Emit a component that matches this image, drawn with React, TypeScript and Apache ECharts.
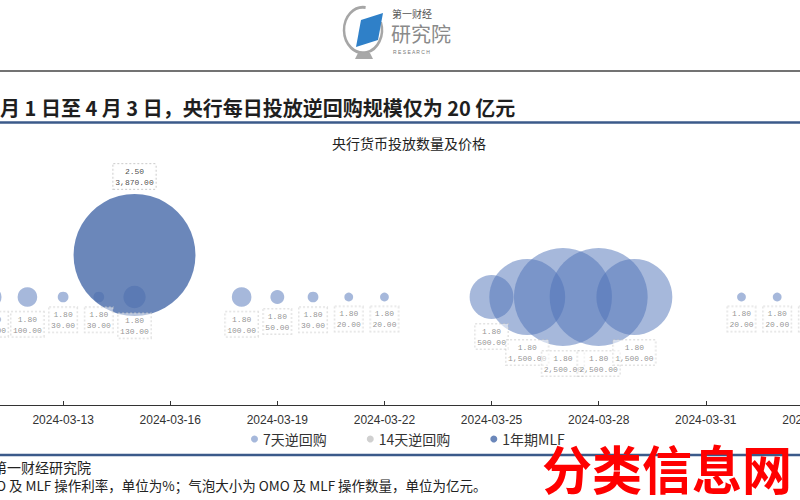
import React, { useEffect, useRef } from 'react';
import * as echarts from 'echarts';

// ---- data ----
const repoDates = ['2024-03-11', '2024-03-12', '2024-03-13', '2024-03-14', '2024-03-15', '2024-03-18', '2024-03-19', '2024-03-20', '2024-03-21', '2024-03-22', '2024-03-25', '2024-03-26', '2024-03-27', '2024-03-28', '2024-03-29', '2024-04-01', '2024-04-02', '2024-04-03'];
const repoRates = [1.8, 1.8, 1.8, 1.8, 1.8, 1.8, 1.8, 1.8, 1.8, 1.8, 1.8, 1.8, 1.8, 1.8, 1.8, 1.8, 1.8, 1.8];
const repoAmounts = [100, 100, 30, 30, 130, 100, 50, 30, 20, 20, 500, 1500, 2500, 2500, 1500, 20, 20, 20];
const repo14Dates: string[] = [];
const repo14Rates: number[] = [];
const repo14Amounts: number[] = [];
const mlfDates = ['2024-03-15'];
const mlfRates = [2.5];
const mlfAmounts = [3870];
const seriesNames = ['7天逆回购', '14天逆回购', '1年期MLF'];
const axisStart = '2024-03-10';
const axisEnd = '2024-04-06';
const tickStepDays = 3;

const headline = '月 1 日至 4 月 3 日，央行每日投放逆回购规模仅为 20 亿元';
const chartTitle = '央行货币投放数量及价格';
const sourceText = '第一财经研究院';
const noteText = 'O 及 MLF 操作利率，单位为%；气泡大小为 OMO 及 MLF 操作数量，单位为亿元。';
const watermark = '分类信息网';

const BASE = Date.UTC(2024, 2, 1);
const DAY = 86400000;
const toIdx = (s: string) =>
  (Date.UTC(+s.slice(0, 4), +s.slice(5, 7) - 1, +s.slice(8, 10)) - BASE) / DAY;
const fmtIdx = (v: number) => new Date(BASE + Math.round(v) * DAY).toISOString().slice(0, 10);
const fmtAmt = (v: number) =>
  v.toLocaleString('en-US', { minimumFractionDigits: 2, maximumFractionDigits: 2 });

const build = (dates: string[], rates: number[], amts: number[]) =>
  dates.map((d, i) => [toIdx(d), rates[i], amts[i]]);

const CJK = '"Noto Sans CJK SC", "Noto Sans", sans-serif';
const OX = 44; // inner canvas offset (chart area extends past the page's left edge)
const INNER_W = 964;

export default function App() {
  const ref = useRef<HTMLDivElement>(null);
  useEffect(() => {
    if (!ref.current) return;
    const chart = echarts.init(ref.current, undefined, { renderer: 'svg' });
    const labelStyle = (position: 'top' | 'bottom') => ({
      show: true,
      position,
      distance: 5,
      formatter: (p: any) => `${p.value[1].toFixed(2)}\n${fmtAmt(p.value[2])}`,
      fontSize: 8,
      fontFamily: '"Liberation Mono", monospace',
      color: '#222',
      lineHeight: 11,
      align: 'center',
      backgroundColor: '#ffffff',
      borderColor: '#c8c8c8',
      borderWidth: 1,
      borderType: 'dotted',
      padding: [2, 2, 1, 2],
    });
    const size = (val: number[]) => 1.96 * Math.sqrt(val[2]);
    const vm = { verticalAlign: 'middle', textVerticalAlign: 'middle' };
    chart.setOption({
      animation: false,
      grid: { left: 0, right: 0, top: 165, bottom: 95, containLabel: false, outerBoundsMode: 'none' },
      xAxis: {
        type: 'value',
        min: toIdx(axisStart),
        max: toIdx(axisEnd),
        interval: tickStepDays,
        splitLine: { show: false },
        axisLine: { lineStyle: { color: '#333', width: 1 } },
        axisTick: { inside: true, length: 4, lineStyle: { color: '#333' } },
        axisLabel: {
          formatter: (v: number) => fmtIdx(v),
          fontSize: 12,
          color: '#333',
          margin: 9,
          fontFamily: '"Liberation Sans", Arial, sans-serif',
        },
      },
      yAxis: { type: 'value', min: 0, max: 4, show: false, splitLine: { show: false } },
      legend: {
        top: 427,
        left: OX + 246,
        icon: 'circle',
        itemWidth: 7,
        itemHeight: 7,
        itemGap: 40,
        data: seriesNames,
        textStyle: { fontSize: 14, color: '#333', fontFamily: CJK },
      },
      series: [
        {
          name: seriesNames[0],
          type: 'scatter',
          data: build(repoDates, repoRates, repoAmounts),
          symbolSize: size,
          itemStyle: { color: '#4E72B8', opacity: 0.5 },
          label: labelStyle('bottom'),
        },
        {
          name: seriesNames[1],
          type: 'scatter',
          data: build(repo14Dates, repo14Rates, repo14Amounts),
          symbolSize: size,
          itemStyle: { color: '#C4C4C4' },
          label: labelStyle('bottom'),
        },
        {
          name: seriesNames[2],
          type: 'scatter',
          data: build(mlfDates, mlfRates, mlfAmounts),
          symbolSize: size,
          itemStyle: { color: '#4A6CAB', opacity: 0.82 },
          label: labelStyle('top'),
        },
      ],
      graphic: [
        {
          type: 'group',
          x: OX,
          y: 0,
          children: [
            // logo
            {
              type: 'arc',
              x: 363,
              y: 30,
              scaleY: 1.2,
              shape: { cx: 0, cy: 0, r: 19, startAngle: -0.35, endAngle: 4.85, clockwise: true },
              style: { stroke: '#a6a6a6', lineWidth: 2.5, fill: null },
            },
            {
              type: 'polygon',
              shape: { points: [[361, 20], [383, 13], [378, 40], [356, 47]] },
              style: { fill: '#2F80C8' },
            },
            {
              type: 'polygon',
              shape: { points: [[358, 53], [370, 53], [373, 59], [355, 59]] },
              style: { fill: '#a8a8a8' },
            },
            {
              type: 'text', x: 392, y: 13,
              style: { text: '第一财经', fontSize: 10, fill: '#555', fontFamily: CJK, ...vm },
            },
            {
              type: 'text', x: 391, y: 33,
              style: { text: '研究院', fontSize: 20, fill: '#8a8a8a', fontFamily: CJK, ...vm },
            },
            {
              type: 'text', x: 393, y: 52,
              style: { text: 'R E S E A R C H', fontSize: 5, fill: '#777', fontFamily: 'Liberation Sans', ...vm },
            },
            // header lines and texts
            { type: 'line', shape: { x1: 0, y1: 71, x2: 800, y2: 71 }, style: { stroke: '#444', lineWidth: 1.5 } },
            {
              type: 'text', x: 0, y: 107,
              style: { text: headline, fontSize: 20, fontWeight: 'bold', fill: '#1f1f1f', fontFamily: CJK, ...vm },
            },
            { type: 'line', shape: { x1: 0, y1: 122.5, x2: 800, y2: 122.5 }, style: { stroke: '#3B5A8A', lineWidth: 2.5 } },
            {
              type: 'text', x: 409, y: 143,
              style: { text: chartTitle, fontSize: 14, fill: '#222', fontFamily: CJK, align: 'center', textAlign: 'center', ...vm },
            },
            { type: 'line', shape: { x1: 0, y1: 455, x2: 800, y2: 455 }, style: { stroke: '#3B5A8A', lineWidth: 2.5 } },
            {
              type: 'text', x: -7, y: 467,
              style: { text: sourceText, fontSize: 14, fill: '#222', fontFamily: CJK, ...vm },
            },
            {
              type: 'text', x: -4, y: 485,
              style: { text: noteText, fontSize: 13.5, fill: '#222', fontFamily: CJK, ...vm },
            },
            {
              type: 'text', x: 667, y: 467, scaleY: 1.05, z: 100,
              style: { text: watermark, fontSize: 50, fontWeight: 'bold', fill: '#FF0000', fontFamily: CJK, align: 'center', textAlign: 'center', ...vm },
            },
          ],
        },
      ],
    });
    return () => chart.dispose();
  }, []);
  return (
    <div style={{ position: 'absolute', left: 0, top: 0, width: 800, height: 500, overflow: 'hidden', background: '#fff' }}>
      <div
        ref={ref}
        style={{ position: 'absolute', left: -OX, top: 0, width: INNER_W, height: 500 }}
      />
    </div>
  );
}
